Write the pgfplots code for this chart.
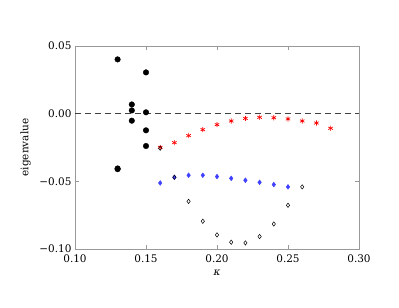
\documentclass[border=0pt]{standalone}
\usepackage{pgfplots}
\pgfplotsset{compat=1.18}
\usepackage{fontspec}
\setmainfont{DejaVu Serif}
\begin{document}
\begin{tikzpicture}[x=1bp,y=1bp]
\begin{axis}[
  name=ax,
  at={(75bp,59bp)}, anchor=south west,
  scale only axis, width=284bp, height=203bp,
  xmin=0.10, xmax=0.30, ymin=-0.10, ymax=0.05,
  xtick={0.10,0.15,0.20,0.25,0.30},
  xticklabels={0.10,0.15,0.20,0.25,0.30},
  ytick={-0.10,-0.05,0,0.05},
  yticklabels={−0.10,−0.05,0.00,0.05},
  tick align=inside, major tick length=4bp,
  axis line style={gray!80, line width=0.8pt},
  every tick/.style={gray!80, line width=0.8pt},
  tick label style={font=\fontsize{10.5}{12}\selectfont},
  xticklabel style={yshift=-2bp},
  xlabel={\itshape κ}, ylabel={eigenvalue},
  label style={font=\fontsize{10.5}{12}\selectfont},
  xlabel style={yshift=-1bp},
  ylabel style={yshift=2bp},
  clip=false,
]
\addplot[black!75, dash pattern=on 6bp off 4bp, line width=0.6pt, forget plot] coordinates {(0.10,0) (0.30,0)};
% black filled circles
\addplot[only marks, mark=*, mark size=2.8pt, black] coordinates {
(0.13,0.0401) (0.13,-0.0405) (0.13,-0.0410)
(0.14,0.0068) (0.14,0.0024) (0.14,-0.0052)
(0.15,0.0305) (0.15,0.0010) (0.15,-0.0123) (0.15,-0.0239)
};
% red stars
\addplot[only marks, mark=asterisk, mark size=2.6pt, red, line width=0.7pt] coordinates {
(0.16,-0.0249) (0.17,-0.0214) (0.18,-0.0162) (0.19,-0.0118) (0.20,-0.0081)
(0.21,-0.0054) (0.22,-0.0035) (0.23,-0.0027) (0.24,-0.0030) (0.25,-0.0039)
(0.26,-0.0054) (0.27,-0.0069) (0.28,-0.0108)
};
% blue diamonds
\addplot[only marks, mark=diamond*, mark size=2.4pt, blue!75, fill=blue!75] coordinates {
(0.16,-0.0512) (0.17,-0.0470) (0.18,-0.0455) (0.19,-0.0455) (0.20,-0.0465)
(0.21,-0.0478) (0.22,-0.0492) (0.23,-0.0507) (0.24,-0.0524) (0.25,-0.0541)
};
% black open diamonds
\addplot[only marks, mark=diamond, mark size=2.2pt, black, line width=0.5pt] coordinates {
(0.16,-0.0255) (0.17,-0.0470) (0.18,-0.0648) (0.19,-0.0795) (0.20,-0.0896)
(0.21,-0.0950) (0.22,-0.0955) (0.23,-0.0908) (0.24,-0.0815) (0.25,-0.0677)
(0.26,-0.0541)
};
\end{axis}
\path[use as bounding box] (0,0) rectangle (399bp,308bp);
\end{tikzpicture}
\end{document}
